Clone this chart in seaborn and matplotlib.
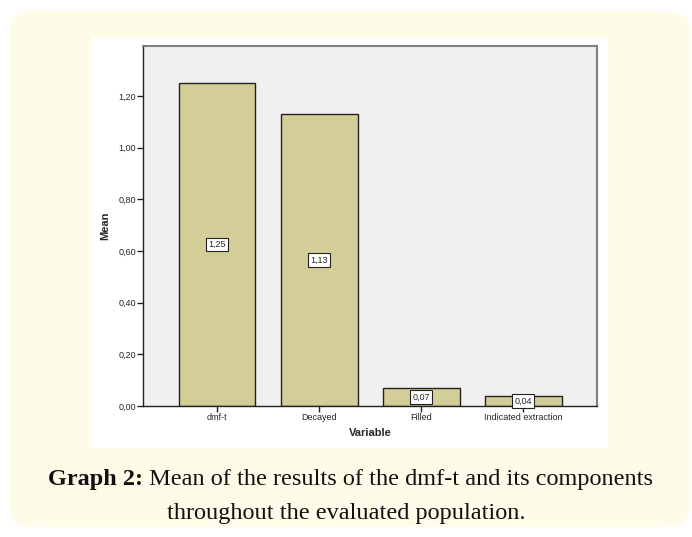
import matplotlib
matplotlib.use('Agg')
import matplotlib.pyplot as plt
import seaborn as sns
import pandas as pd
from matplotlib.patches import FancyBboxPatch, Rectangle

# values
categories = ['dmf-t', 'Decayed', 'Filled', 'Indicated extraction']
means = [1.25, 1.13, 0.07, 0.04]
yticks = [0.0, 0.2, 0.4, 0.6, 0.8, 1.0, 1.2]
caption_bold = 'Graph 2:'
caption_rest = ' Mean of the results of the dmf-t and its components'
caption_line2 = 'throughout the evaluated population.'

df = pd.DataFrame({'Variable': categories, 'Mean': means})

sns.set_style('white')
plt.rcParams['font.family'] = ['Liberation Sans', 'DejaVu Sans']

W, H = 692, 537
fig = plt.figure(figsize=(W / 100, H / 100), dpi=100)
fig.patch.set_facecolor('white')

# cream card with rounded corners
card = FancyBboxPatch((10 / W, 10 / H), 680 / W, 516 / H,
                      boxstyle='round,pad=0,rounding_size=0.035',
                      transform=fig.transFigure, facecolor='#fffbe9',
                      edgecolor='none', zorder=-2)
fig.patches.append(card)
# white panel behind the chart
panel = Rectangle((92 / W, (H - 448) / H), 516 / W, 411 / H,
                  transform=fig.transFigure, facecolor='white',
                  edgecolor='none', zorder=-1)
fig.patches.append(panel)

ax = fig.add_axes([143 / W, (H - 406) / H, 454 / W, 360 / H])
ax.set_zorder(1)
ax.set_facecolor('#f0f0f0')
sns.barplot(data=df, x='Variable', y='Mean', color='#d3ce97', saturation=1,
            edgecolor='#222222', linewidth=1.0, width=0.75, ax=ax, zorder=2)

for i, v in enumerate(means):
    ax.text(i, v / 2, f'{v:.2f}'.replace('.', ','), ha='center', va='center',
            fontsize=6.5, zorder=3,
            bbox=dict(boxstyle='square,pad=0.25', facecolor='white',
                      edgecolor='#222222', linewidth=0.8))

ax.set_xlim(-0.726, 3.72)
ax.set_ylim(0, 1.393)
ax.set_yticks(yticks)
ax.set_yticklabels([f'{t:.2f}'.replace('.', ',') for t in yticks])
ax.tick_params(axis='both', which='both', direction='out', length=4,
               width=1, labelsize=6.5, color='#222222', pad=1,
               left=True, bottom=True)
ax.set_xlabel('Variable', fontsize=8, fontweight='bold', labelpad=4)
ax.set_ylabel('Mean', fontsize=8, fontweight='bold', labelpad=6)

for side in ['left', 'bottom']:
    ax.spines[side].set_color('#222222')
    ax.spines[side].set_linewidth(1.0)
for side in ['top', 'right']:
    ax.spines[side].set_color('#808080')
    ax.spines[side].set_linewidth(1.5)

# caption, bold prefix then regular text
serif = ['Liberation Serif', 'DejaVu Serif']
fs = 17.5
y1 = (H - 480) / H
t1 = fig.text(0.5, y1, caption_bold + caption_rest, ha='center',
              va='center', fontsize=fs, family=serif, alpha=0)
fig.canvas.draw()
bb = t1.get_window_extent()
tb = fig.text(bb.x0 / W, y1, caption_bold, ha='left', va='center',
              fontsize=fs, fontweight='bold', family=serif, color='#111111')
fig.canvas.draw()
bb2 = tb.get_window_extent()
fig.text(bb2.x1 / W, y1, caption_rest, ha='left', va='center',
         fontsize=fs, family=serif, color='#111111')
fig.text(0.5, (H - 513) / H, caption_line2, ha='center', va='center',
         fontsize=fs, family=serif, color='#111111')

fig.savefig('out.png', dpi=100, facecolor=fig.get_facecolor())
